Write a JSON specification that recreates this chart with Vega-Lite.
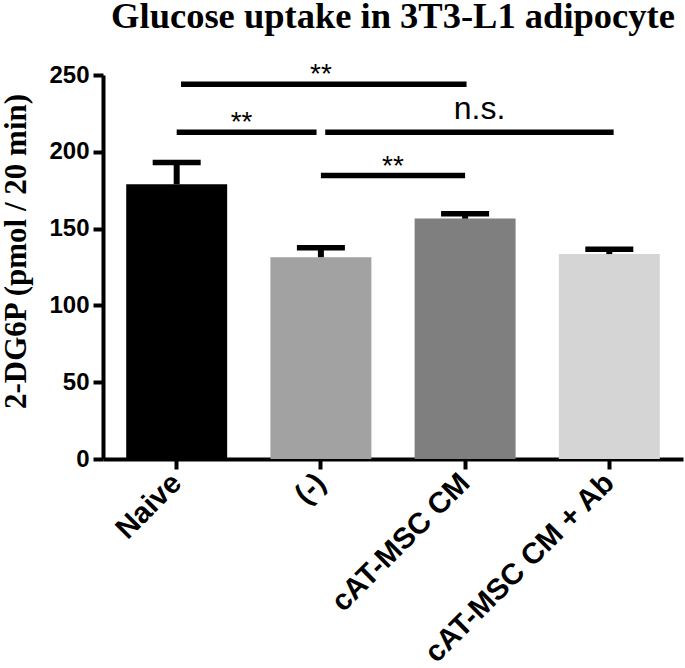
{
  "$schema": "https://vega.github.io/schema/vega-lite/v6.json",
  "width": 580,
  "height": 384,
  "autosize": {"type": "none"},
  "padding": {"left": 103, "top": 75, "right": 2, "bottom": 209},
  "background": "white",
  "title": {
    "text": "Glucose uptake in 3T3-L1 adipocyte",
    "font": "Liberation Serif",
    "fontSize": 36.5,
    "fontWeight": "bold",
    "color": "black",
    "anchor": "middle",
    "frame": "group",
    "baseline": "alphabetic",
    "offset": 12,
    "dy": 15
  },
  "config": {
    "view": {"stroke": null},
    "axis": {"grid": false}
  },
  "datasets": {
    "bars": [
      {"group": "Naive", "value": 178.9, "upper": 193.0},
      {"group": "(-)", "value": 131.4, "upper": 137.6},
      {"group": "cAT-MSC CM", "value": 156.5, "upper": 159.6},
      {"group": "cAT-MSC CM + Ab", "value": 133.4, "upper": 136.6}
    ],
    "sig": [
      {"x1": 0.03, "x2": 2.01, "y": 244.0, "label": "**", "lx": 1.0, "ly": 244.0, "kind": "star"},
      {"x1": 0.0, "x2": 0.97, "y": 212.7, "label": "**", "lx": 0.45, "ly": 212.7, "kind": "star"},
      {"x1": 1.03, "x2": 3.03, "y": 212.7, "label": "n.s.", "lx": 2.1, "ly": 220.5, "kind": "ns"},
      {"x1": 1.0, "x2": 2.0, "y": 184.5, "label": "**", "lx": 1.5, "ly": 184.5, "kind": "star"}
    ]
  },
  "layer": [
    {
      "data": {"name": "bars"},
      "encoding": {
        "x": {
          "field": "group",
          "type": "nominal",
          "sort": null,
          "scale": {"paddingInner": 0.3, "paddingOuter": 0.161},
          "axis": {
            "title": null,
            "labelAngle": -45,
            "labelAlign": "right",
            "labelBaseline": "middle",
            "labelFont": "Liberation Sans",
            "labelFontSize": 29.5,
            "labelFontWeight": "bold",
            "labelColor": "black",
            "labelPadding": 9,
            "labelLimit": 0,
            "domainColor": "black",
            "domainWidth": 4,
            "tickColor": "black",
            "tickWidth": 4,
            "tickSize": 10
          }
        }
      },
      "layer": [
        {
          "mark": {"type": "bar"},
          "encoding": {
            "y": {
              "field": "value",
              "type": "quantitative",
              "scale": {"domain": [0, 250], "nice": false},
              "title": "2-DG6P (pmol / 20 min)",
              "axis": {
                "values": [0, 50, 100, 150, 200, 250],
                "labelFont": "Liberation Sans",
                "labelFontSize": 24,
                "labelFontWeight": "bold",
                "labelColor": "black",
                "labelPadding": 4,
                "domainColor": "black",
                "domainWidth": 4,
                "tickColor": "black",
                "tickWidth": 4,
                "tickSize": 10,
                "titleFont": "Liberation Serif",
                "titleFontSize": 31,
                "titleFontWeight": "bold",
                "titleColor": "black",
                "titleAngle": -90,
                "titleAlign": "center",
                "titleBaseline": "alphabetic",
                "titleX": -78,
                "titleY": 176
              }
            },
            "color": {
              "field": "group",
              "type": "nominal",
              "scale": {
                "domain": ["Naive", "(-)", "cAT-MSC CM", "cAT-MSC CM + Ab"],
                "range": ["#000000", "#a2a2a2", "#7f7f7f", "#d5d5d5"]
              },
              "legend": null
            }
          }
        },
        {
          "mark": {"type": "rule", "color": "black", "strokeWidth": 6},
          "encoding": {
            "y": {"field": "value", "type": "quantitative", "scale": {"domain": [0, 250], "nice": false}, "title": "2-DG6P (pmol / 20 min)"},
            "y2": {"field": "upper"}
          }
        },
        {
          "mark": {"type": "tick", "color": "black", "size": 48, "thickness": 5.5, "opacity": 1},
          "encoding": {
            "y": {"field": "upper", "type": "quantitative", "scale": {"domain": [0, 250], "nice": false}, "title": "2-DG6P (pmol / 20 min)"}
          }
        }
      ]
    },
    {
      "data": {"name": "sig"},
      "layer": [
        {
          "mark": {"type": "rule", "color": "black", "strokeWidth": 5.5},
          "encoding": {
            "x": {"field": "x1", "type": "quantitative", "scale": {"domain": [-0.511, 3.511], "nice": false, "zero": false}, "axis": null},
            "x2": {"field": "x2"},
            "y": {"field": "y", "type": "quantitative", "scale": {"domain": [0, 250], "nice": false}, "title": "2-DG6P (pmol / 20 min)"}
          }
        },
        {
          "mark": {"type": "text", "color": "black", "baseline": "alphabetic", "align": "center", "dy": -1},
          "encoding": {
            "x": {"field": "lx", "type": "quantitative", "axis": null},
            "y": {"field": "ly", "type": "quantitative", "scale": {"domain": [0, 250], "nice": false}, "title": "2-DG6P (pmol / 20 min)"},
            "text": {"field": "label"},
            "font": {"field": "kind", "type": "nominal", "scale": {"domain": ["star", "ns"], "range": ["Liberation Sans", "Liberation Serif"]}, "legend": null},
            "size": {"field": "kind", "type": "nominal", "scale": {"domain": ["star", "ns"], "range": [28, 32]}, "legend": null}
          }
        }
      ]
    }
  ],
  "resolve": {"scale": {"x": "independent"}}
}
